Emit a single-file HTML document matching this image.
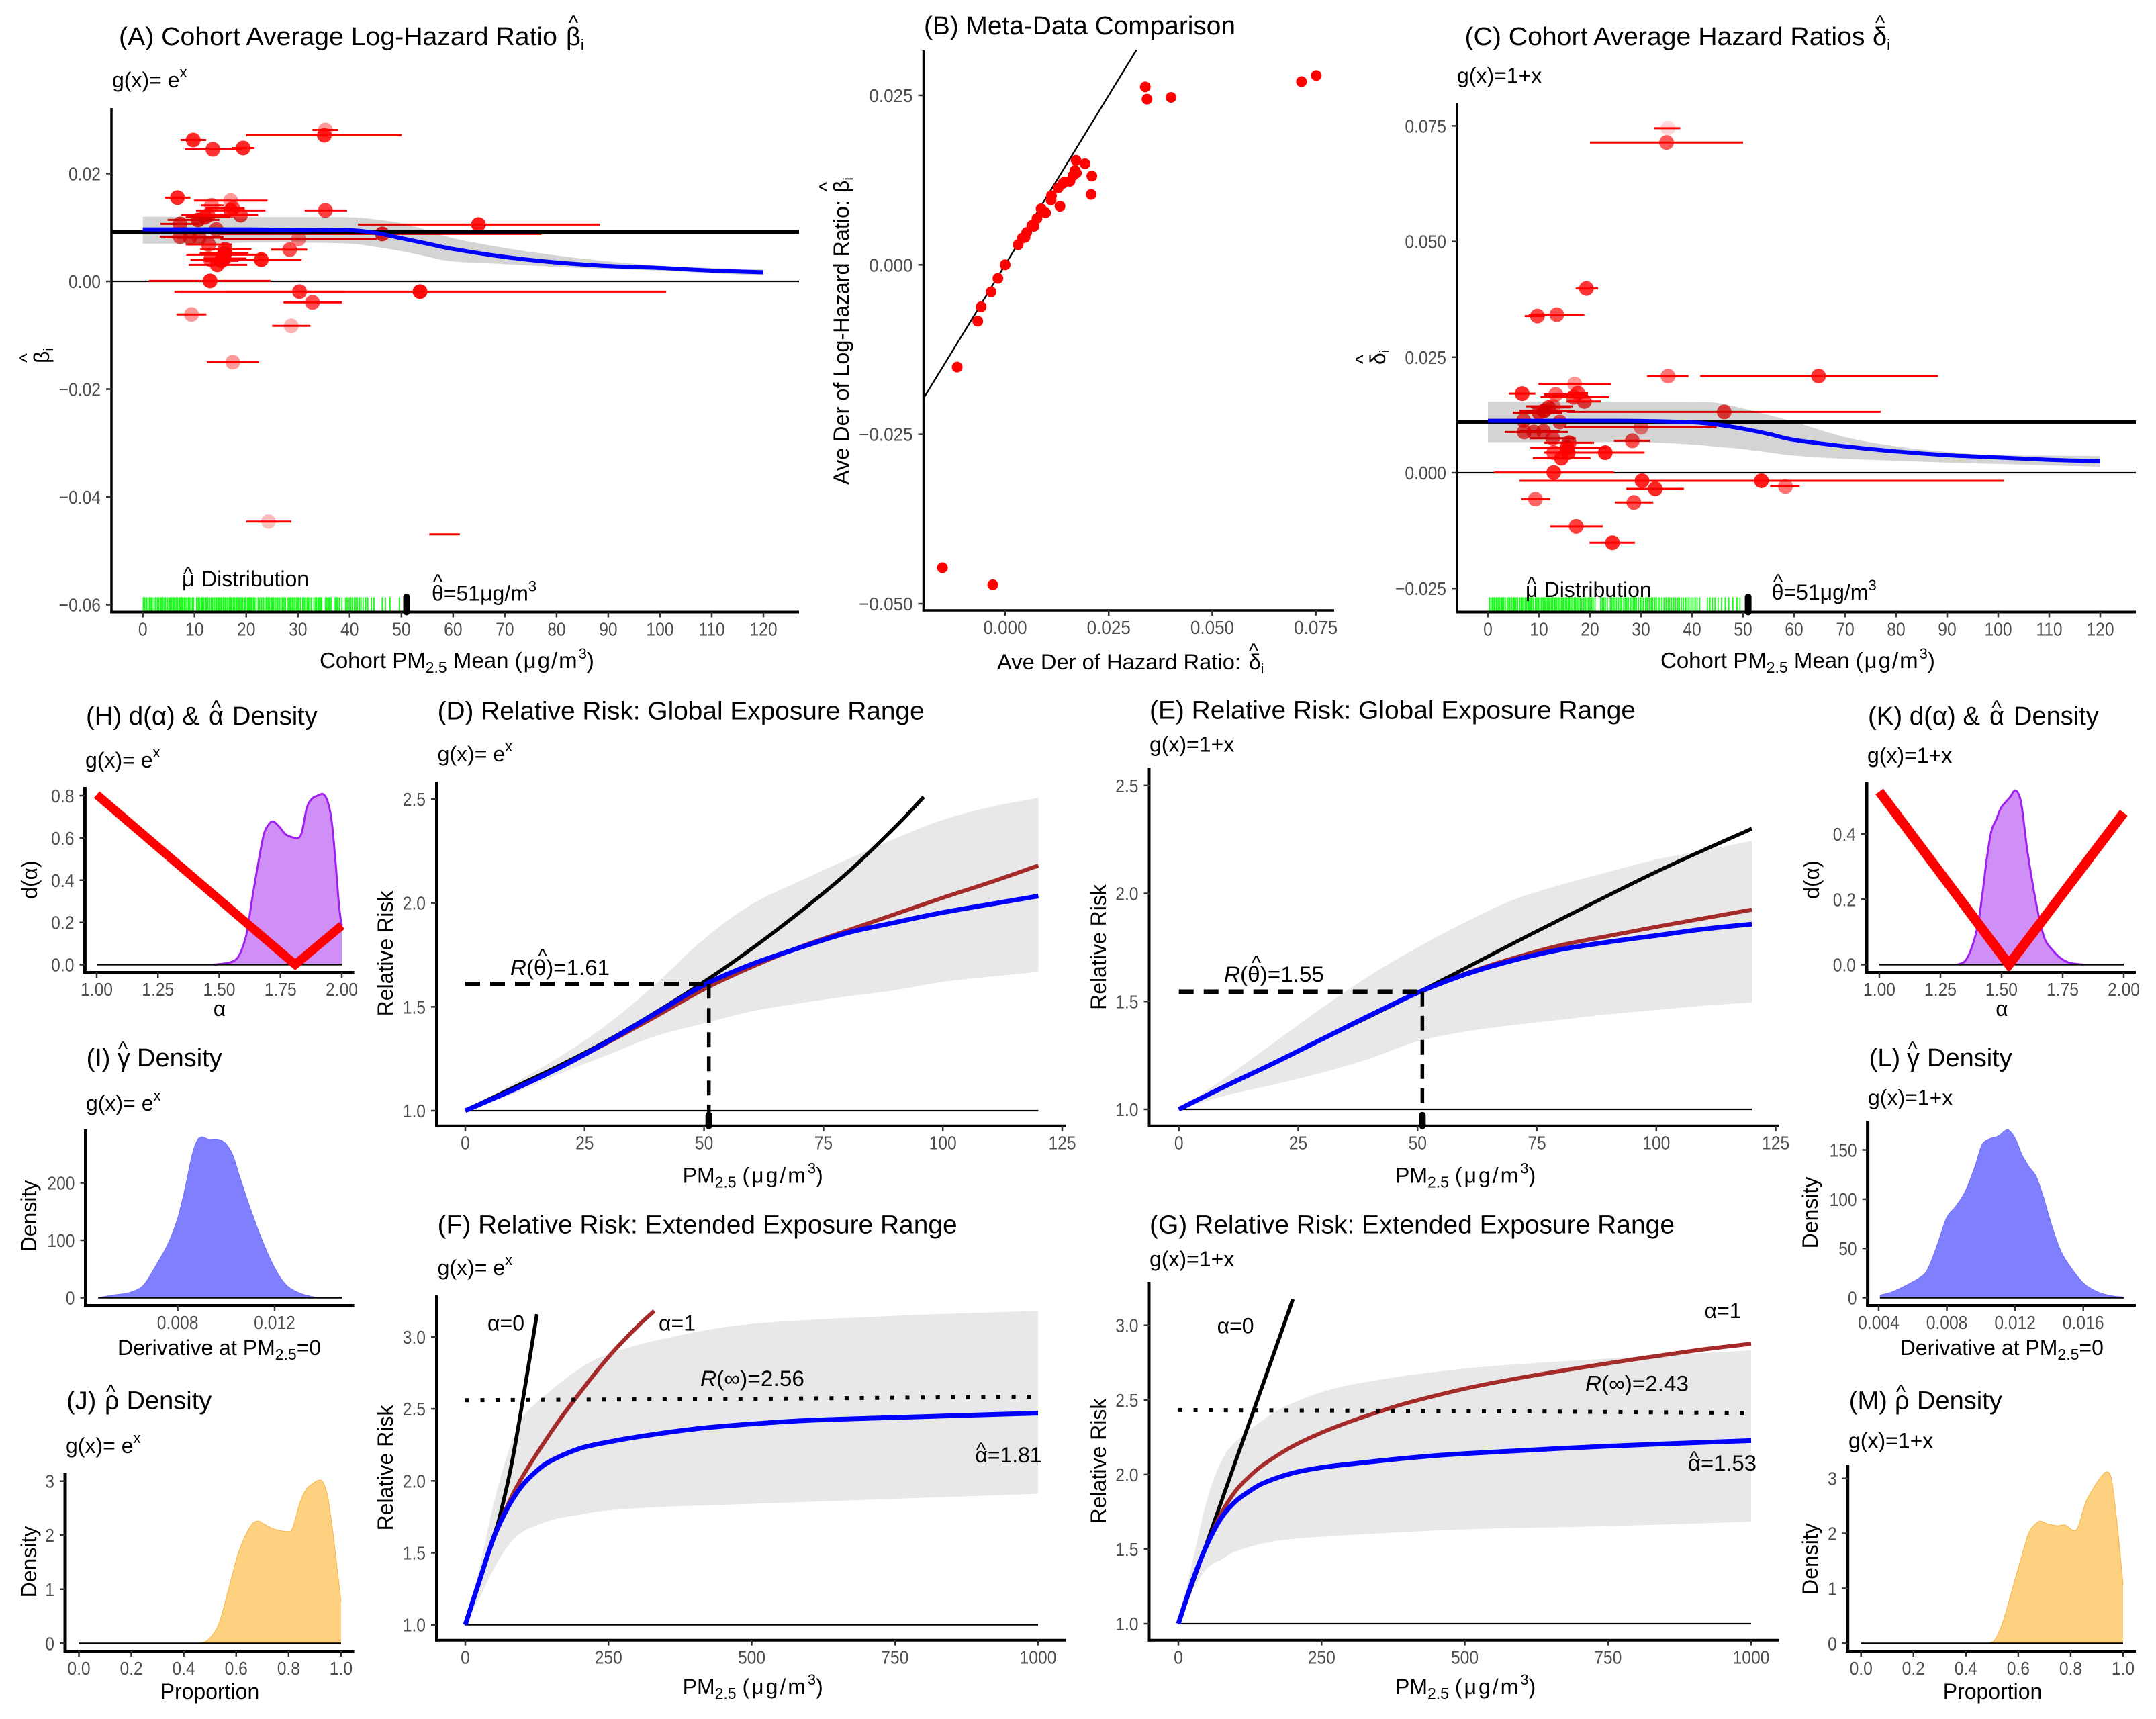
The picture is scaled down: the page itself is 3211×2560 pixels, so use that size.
<!DOCTYPE html>
<html lang="en">
<head>
<meta charset="utf-8">
<title>Cohort hazard ratios and relative risk panels</title>
<style>
html,body{margin:0;padding:0;background:#fff;width:3211px;height:2560px;overflow:hidden}
svg{display:block}
text{font-family:"Liberation Sans","DejaVu Sans",sans-serif;fill:#000}
.title{font-size:38px}
.sub{font-size:32px}
.lab{font-size:32px}
.hat{font-size:30px;text-anchor:middle}
</style>
</head>
<body>
<svg id="chart" width="3211" height="2560" viewBox="0 0 3211 2560" xmlns="http://www.w3.org/2000/svg">
<rect width="3211" height="2560" fill="#fff"/>
<g id="marks"></g>

<g>
<text class="title" x="177" y="67" textLength="653" lengthAdjust="spacingAndGlyphs">(A) Cohort Average Log-Hazard Ratio</text>
<text class="title" x="843" y="67">β<tspan font-size="22" dy="7">i</tspan></text>
<text class="hat" x="854" y="44">^</text>
<text class="sub" x="167" y="130">g(x)= e<tspan font-size="22" dy="-15">x</tspan></text>
<text class="lab" x="476" y="995" style="font-size:33px">Cohort PM<tspan font-size="23" dy="7">2.5</tspan><tspan dy="-7"> Mean </tspan><tspan letter-spacing="2">(μg/m</tspan><tspan font-size="22" dy="-14">3</tspan><tspan dy="14">)</tspan></text>
<text class="lab" transform="translate(73,541) rotate(-90)">β<tspan font-size="20" dy="6">i</tspan></text>
<text class="hat" transform="translate(50,533) rotate(-90)">^</text>
<text class="lab" x="271" y="873">μ</text>
<text class="hat" x="280" y="865">^</text>
<text class="lab" x="300" y="873">Distribution</text>
<text class="lab" x="643" y="894.6">θ=51μg/m<tspan font-size="22" dy="-14">3</tspan></text>
<text class="hat" x="652" y="876">^</text>
</g>

<g>
<text class="title" x="1376" y="51" textLength="464" lengthAdjust="spacingAndGlyphs">(B) Meta-Data Comparison</text>
<text class="lab" x="1485" y="997" textLength="363" lengthAdjust="spacingAndGlyphs">Ave Der of Hazard Ratio:</text>
<text class="lab" x="1860" y="997">δ<tspan font-size="20" dy="6">i</tspan></text>
<text class="hat" x="1867" y="979">^</text>
<text class="lab" transform="translate(1264,722) rotate(-90)" textLength="424" lengthAdjust="spacingAndGlyphs">Ave Der of Log-Hazard Ratio:</text>
<text class="lab" transform="translate(1264,287) rotate(-90)">β<tspan font-size="20" dy="6">i</tspan></text>
<text class="hat" transform="translate(1241,278) rotate(-90)">^</text>
</g>

<g>
<text class="title" x="2181.5" y="67" textLength="596" lengthAdjust="spacingAndGlyphs">(C) Cohort Average Hazard Ratios</text>
<text class="title" x="2789" y="67">δ<tspan font-size="22" dy="7">i</tspan></text>
<text class="hat" x="2800" y="44">^</text>
<text class="sub" x="2170" y="123.6">g(x)=1+x</text>
<text class="lab" x="2473" y="995" style="font-size:33px">Cohort PM<tspan font-size="23" dy="7">2.5</tspan><tspan dy="-7"> Mean </tspan><tspan letter-spacing="2">(μg/m</tspan><tspan font-size="22" dy="-14">3</tspan><tspan dy="14">)</tspan></text>
<text class="lab" transform="translate(2063,543) rotate(-90)">δ<tspan font-size="20" dy="6">i</tspan></text>
<text class="hat" transform="translate(2040,535) rotate(-90)">^</text>
<text class="lab" x="2272" y="889">μ</text>
<text class="hat" x="2281" y="880">^</text>
<text class="lab" x="2299.6" y="889">Distribution</text>
<text class="lab" x="2638.6" y="893">θ=51μg/m<tspan font-size="22" dy="-14">3</tspan></text>
<text class="hat" x="2648" y="876">^</text>
</g>

<g>
<text class="title" x="651.6" y="1071.6" textLength="725" lengthAdjust="spacingAndGlyphs">(D) Relative Risk: Global Exposure Range</text>
<text class="sub" x="651.6" y="1134">g(x)= e<tspan font-size="22" dy="-15">x</tspan></text>
<text class="lab" x="1016.6" y="1761.6">PM<tspan font-size="23" dy="7">2.5</tspan><tspan dy="-7"> </tspan><tspan letter-spacing="3">(μg/m</tspan><tspan font-size="22" dy="-14">3</tspan><tspan dy="14">)</tspan></text>
<text class="lab" text-anchor="middle" transform="translate(585,1420) rotate(-90)">Relative Risk</text>
<text class="lab" x="760" y="1452" textLength="148" lengthAdjust="spacingAndGlyphs"><tspan font-style="italic">R</tspan>(θ)=1.61</text>
<text class="hat" x="808" y="1434">^</text>
</g>

<g>
<text class="title" x="1712" y="1070.6" textLength="724" lengthAdjust="spacingAndGlyphs">(E) Relative Risk: Global Exposure Range</text>
<text class="sub" x="1712" y="1119.7">g(x)=1+x</text>
<text class="lab" x="2078" y="1761.6">PM<tspan font-size="23" dy="7">2.5</tspan><tspan dy="-7"> </tspan><tspan letter-spacing="3">(μg/m</tspan><tspan font-size="22" dy="-14">3</tspan><tspan dy="14">)</tspan></text>
<text class="lab" text-anchor="middle" transform="translate(1647,1410.5) rotate(-90)">Relative Risk</text>
<text class="lab" x="1823" y="1462" textLength="149" lengthAdjust="spacingAndGlyphs"><tspan font-style="italic">R</tspan>(θ)=1.55</text>
<text class="hat" x="1871" y="1444">^</text>
</g>

<g>
<text class="title" x="651.6" y="1836.7" textLength="774" lengthAdjust="spacingAndGlyphs">(F) Relative Risk: Extended Exposure Range</text>
<text class="sub" x="651.6" y="1899">g(x)= e<tspan font-size="22" dy="-15">x</tspan></text>
<text class="lab" x="1016.6" y="2523">PM<tspan font-size="23" dy="7">2.5</tspan><tspan dy="-7"> </tspan><tspan letter-spacing="3">(μg/m</tspan><tspan font-size="22" dy="-14">3</tspan><tspan dy="14">)</tspan></text>
<text class="lab" text-anchor="middle" transform="translate(585,2186) rotate(-90)">Relative Risk</text>
<text class="lab" x="726" y="1981.5">α=0</text>
<text class="lab" x="981" y="1981.5">α=1</text>
<text class="lab" x="1043" y="2064" textLength="155" lengthAdjust="spacingAndGlyphs"><tspan font-style="italic">R</tspan>(∞)=2.56</text>
<text class="lab" x="1452.5" y="2178" textLength="99" lengthAdjust="spacingAndGlyphs">α=1.81</text>
<text class="hat" x="1461" y="2169">^</text>
</g>

<g>
<text class="title" x="1712" y="1836.7" textLength="782" lengthAdjust="spacingAndGlyphs">(G) Relative Risk: Extended Exposure Range</text>
<text class="sub" x="1712" y="1885.8">g(x)=1+x</text>
<text class="lab" x="2078" y="2523">PM<tspan font-size="23" dy="7">2.5</tspan><tspan dy="-7"> </tspan><tspan letter-spacing="3">(μg/m</tspan><tspan font-size="22" dy="-14">3</tspan><tspan dy="14">)</tspan></text>
<text class="lab" text-anchor="middle" transform="translate(1647,2176) rotate(-90)">Relative Risk</text>
<text class="lab" x="1812.6" y="1985.5">α=0</text>
<text class="lab" x="2538.6" y="1963">α=1</text>
<text class="lab" x="2361" y="2071.4" textLength="154" lengthAdjust="spacingAndGlyphs"><tspan font-style="italic">R</tspan>(∞)=2.43</text>
<text class="lab" x="2514" y="2190" textLength="102" lengthAdjust="spacingAndGlyphs">α=1.53</text>
<text class="hat" x="2523" y="2182">^</text>
</g>

<g>
<text class="title" x="128" y="1079" textLength="169" lengthAdjust="spacingAndGlyphs">(H) d(α) &amp;</text>
<text class="title" x="311" y="1079">α</text>
<text class="hat" x="322" y="1064">^</text>
<text class="title" x="346" y="1079">Density</text>
<text class="sub" x="127" y="1142.8">g(x)= e<tspan font-size="22" dy="-15">x</tspan></text>
<text class="lab" text-anchor="middle" x="327" y="1513">α</text>
<text class="lab" text-anchor="middle" transform="translate(55,1310) rotate(-90)">d(α)</text>
</g>

<g>
<text class="title" x="128.6" y="1588">(I)</text>
<text class="title" x="175" y="1588">γ</text>
<text class="hat" x="183" y="1572">^</text>
<text class="title" x="204" y="1588">Density</text>
<text class="sub" x="128" y="1654">g(x)= e<tspan font-size="22" dy="-15">x</tspan></text>
<text class="lab" x="175" y="2018">Derivative at PM<tspan font-size="23" dy="7">2.5</tspan><tspan dy="-7">=0</tspan></text>
<text class="lab" text-anchor="middle" transform="translate(54,1811) rotate(-90)">Density</text>
</g>

<g>
<text class="title" x="99" y="2098.5">(J)</text>
<text class="title" x="156" y="2098.5">ρ</text>
<text class="hat" x="165" y="2083">^</text>
<text class="title" x="188.6" y="2098.5">Density</text>
<text class="sub" x="98" y="2164">g(x)= e<tspan font-size="22" dy="-15">x</tspan></text>
<text class="lab" x="238.6" y="2530">Proportion</text>
<text class="lab" text-anchor="middle" transform="translate(54,2326) rotate(-90)">Density</text>
</g>

<g>
<text class="title" x="2782" y="1079" textLength="167" lengthAdjust="spacingAndGlyphs">(K) d(α) &amp;</text>
<text class="title" x="2963" y="1079">α</text>
<text class="hat" x="2973.5" y="1064">^</text>
<text class="title" x="2999" y="1079">Density</text>
<text class="sub" x="2781" y="1136">g(x)=1+x</text>
<text class="lab" text-anchor="middle" x="2981.5" y="1513">α</text>
<text class="lab" text-anchor="middle" transform="translate(2709,1310) rotate(-90)">d(α)</text>
</g>

<g>
<text class="title" x="2783.7" y="1588">(L)</text>
<text class="title" x="2840" y="1588">γ</text>
<text class="hat" x="2848.5" y="1572">^</text>
<text class="title" x="2870" y="1588">Density</text>
<text class="sub" x="2782" y="1645.7">g(x)=1+x</text>
<text class="lab" x="2829.7" y="2018">Derivative at PM<tspan font-size="23" dy="7">2.5</tspan><tspan dy="-7">=0</tspan></text>
<text class="lab" text-anchor="middle" transform="translate(2707,1806) rotate(-90)">Density</text>
</g>

<g>
<text class="title" x="2753.8" y="2098.5">(M)</text>
<text class="title" x="2822" y="2098.5">ρ</text>
<text class="hat" x="2831" y="2083">^</text>
<text class="title" x="2855" y="2098.5">Density</text>
<text class="sub" x="2753" y="2156.6">g(x)=1+x</text>
<text class="lab" x="2893.7" y="2530">Proportion</text>
<text class="lab" text-anchor="middle" transform="translate(2707,2321.6) rotate(-90)">Density</text>
</g>
</svg>

<script>
/* ---------- Panel A data ---------- */
const aX=[9.74,13.55,19.4,35.3,35.1,6.7,17,13.3,17.4,17,35.3,18.9,12.6,12,10.7,7.2,46.3,64.9,14.2,7.2,9.1,10.9,30.1,12.7,15.9,28.4,15.9,22.9,15.7,13.1,15.7,15.2,14.4,13,30.3,53.6,32.8,9.4,28.7,17.4,24.3,58.4];
const aY=[.02623,.02449,.02474,.0281,.0271,.01553,.01499,.01411,.01357,.01316,.01316,.01229,.01225,.01191,.01142,.01067,.0088,.01054,.00963,.0083,.00818,.0081,.00785,.00685,.00594,.00589,.00527,.00403,.00494,.00403,.00423,.00382,.00307,.00008,-.00191,-.00191,-.0039,-.00614,-.00826,-.01499,-.04458,-.04695];
const aLo=[7.3,8.1,17.2,32.8,20,4.2,9.9,11.2,12.2,10.3,31.3,7.4,8.7,8.3,4.8,3.4,15.1,41.6,10.5,3.3,4,6.6,15,8.3,11.1,24.8,11,11.1,8.4,9.2,11.8,12,8.9,1.2,15.9,6.1,27.2,6.5,25,12.4,20,55.4];
const aHi=[12.25,19.1,21.6,37.8,50,9.2,24.1,15.6,19.7,23.7,39.5,22.3,17,16.9,14.8,10.9,77.1,88.4,18.3,11.1,15.6,15.2,45.2,17.2,21,31.8,20.4,30.7,23.5,16.5,20,18.5,20.2,24.7,39,101.2,38.5,12.3,32.4,22.5,28.7,61.3];
const aWeight=[.85,.8,.85,.4,.85,.85,.4,.5,.7,.8,.75,.75,.7,.8,.85,.75,.85,.9,.7,.7,.75,.7,.5,.7,.85,.7,.85,.9,.9,.7,.9,.9,.85,.9,.8,.95,.7,.4,.3,.4,.25,0];
const aSmoothX=[0,10,20,30,35,40,45,50,55,60,70,80,90,100,110,120];
const aSmooth=[.00964,.00964,.00964,.00955,.0095,.0095,.009,.008,.007,.006,.00453,.0035,.00285,.0025,.002,.0017];
const aBandX=[0,10,20,30,40,45,50,55,60,70,80,90,100,110,120];
const aBandUp=[.0120,.0120,.01195,.01195,.0119,.0115,.0108,.0095,.008,.0062,.0048,.0037,.0029,.0025,.00225];
const aBandLow=[.0070,.0070,.0072,.0072,.0070,.0064,.0056,.0046,.0037,.0032,.0027,.0023,.002,.0015,.0011];
const aMean=.0092;
const aRug=[0.1,0.4,0.7,1.0,1.3,1.6,1.8,2.2,2.5,2.8,3.1,3.4,3.6,3.9,4.2,4.4,4.8,5.1,5.3,5.6,5.9,6.1,6.4,6.7,7.0,7.2,7.5,7.7,8.0,8.2,8.5,8.8,9.0,9.3,9.6,9.8,10.4,10.7,11.0,11.3,11.5,11.8,12.1,12.3,12.6,12.9,13.2,13.5,13.8,14.1,14.3,14.6,14.8,15.1,15.3,15.6,15.9,16.1,16.4,16.7,17.0,17.2,17.5,17.7,18.0,18.2,18.5,18.7,19.0,19.3,19.6,19.8,20.2,20.4,20.6,20.9,21.1,21.4,21.6,21.9,22.3,22.6,23.0,23.3,23.6,23.9,24.2,24.5,24.8,25.0,25.3,25.6,25.9,26.1,26.4,26.7,27.0,27.3,27.6,28.1,28.4,28.6,28.9,29.1,29.4,29.7,30.0,30.2,30.5,30.9,31.2,31.5,31.8,32.0,32.3,32.6,33.1,33.4,33.6,33.9,34.1,34.4,34.6,35.3,35.6,35.9,36.1,36.4,37.2,37.5,37.7,38.0,38.5,39.2,39.5,39.9,40.2,40.5,40.9,41.2,41.5,41.9,42.2,42.6,43.1,43.5,44.2,44.7,46.3,46.9,47.8,49.6];
const aTheta=51;
const aXTicks=[0,10,20,30,40,50,60,70,80,90,100,110,120];
const aYTicks=[.02,0,-.02,-.04,-.06];
const aYLabels=['0.02','0.00','−0.02','−0.04','−0.06'];

/* ---------- Panel B data ---------- */
const bX=[-.01514,-.00298,-.01158,-.00662,-.00579,-.00339,-.00174,0,.00314,.00414,.0048,.00521,.00645,.00695,.00769,.00869,.00976,.01117,.01108,.01282,.0139,.01324,.01431,.01563,.01638,.0172,.01687,.01712,.01927,.02093,.02076,.03383,.03425,.04004,.07155,.07511];
const bY=[-.0447,-.04721,-.01509,-.00832,-.00619,-.004,-.002,0,.00297,.00393,.00406,.00477,.0058,.00568,.00684,.00826,.00767,.01019,.00955,.01135,.012,.00864,.01219,.01232,.01316,.01354,.01393,.01541,.0149,.01309,.01038,.02625,.02444,.0247,.02702,.02793];
const bLineX=[-.0197,.0317];
const bLineY=[-.0197,.0317];
const bXTicks=[0,.025,.05,.075];
const bXLabels=['0.000','0.025','0.050','0.075'];
const bYTicks=[.025,0,-.025,-.05];
const bYLabels=['0.025','0.000','−0.025','−0.050'];

/* ---------- Panel C data ---------- */
const cX=[35.3,35,19.3,9.7,13.5,35.3,64.8,17,6.7,13.3,17.6,16.8,18.9,12.8,11.9,11,10,46.3,7,14.1,30,7.1,9,10.9,12.7,15.9,28.3,15.5,12.9,23,15.7,14.4,12.9,30.2,53.6,32.8,58.3,9.3,28.6,17.3,24.4];
const cY=[.0745,.0714,.03983,.03388,.03417,.02088,.0209,.01919,.01711,.01692,.01721,.01634,.01542,.01436,.01411,.01339,.013,.01315,.01131,.01097,.00981,.0088,.0088,.00894,.00744,.00648,.00691,.00541,.00435,.00435,.00435,.00314,.00005,-.00174,-.00174,-.00348,-.00295,-.0057,-.00643,-.0116,-.01513];
const cLo=[32.6,20,17.2,7.2,8,31.2,41.6,9.9,4.1,11,15.7,10.3,15.4,7.4,8.4,6.2,4.9,15.5,3.2,10.4,15,3.3,5.8,6.2,8.2,11,24.7,8.3,11,11,11.5,8.8,1.2,19,6.2,27.1,55.3,6.6,24.9,12.2,19.9];
const cHi=[37.7,50,21.6,11.1,18.9,39.3,88.2,24.1,9.3,19.6,19.6,23.7,22.1,16.6,16.3,17,14.6,77,11,17.6,44.8,10.8,15.7,14.1,17.2,20.8,31.8,23.3,17,30.7,19,20.1,24.7,41.5,101.1,38.4,61.1,12.2,32.4,22.5,28.8];
const cWeight=[.15,.65,.8,.75,.7,.55,.8,.4,.85,.6,.75,.7,.75,.5,.8,.85,.8,.75,.7,.7,.5,.7,.7,.7,.7,.8,.7,.9,.7,.9,.9,.85,.85,.85,.9,.85,.55,.6,.7,.75,.85];
const cSmoothX=[0,10,20,30,40,45,50,55,60,70,80,90,100,110,120];
const cSmooth=[.01124,.01124,.01124,.0112,.0109,.0104,.0095,.0084,.0071,.0057,.0046,.0038,.0033,.0028,.0025];
const cBandX=[0,10,20,30,40,45,50,55,60,70,80,90,100,110,120];
const cBandUp=[.01537,.01537,.0153,.0153,.0153,.0151,.0139,.0125,.011,.0077,.0057,.0045,.0038,.0037,.0036];
const cBandLow=[.0066,.0066,.0066,.0066,.0061,.0056,.0051,.0044,.0037,.003,.0026,.0022,.0019,.0016,.0013];
const cMean=.0109;
const cRug=[0.3,0.6,0.9,1.2,1.4,1.7,2.0,2.3,2.6,2.8,3.1,3.4,3.8,4.1,4.3,4.7,5.0,5.2,5.5,5.8,6.2,6.5,6.7,7.0,7.3,7.6,7.9,8.1,8.4,8.6,8.9,9.3,9.6,9.9,10.2,10.5,10.8,11.1,11.3,11.6,11.9,12.1,12.4,12.7,13.0,13.2,13.5,13.8,14.1,14.4,14.7,14.9,15.2,15.5,15.8,16.0,16.3,16.6,16.9,17.2,17.5,17.8,18.1,18.4,18.8,19.1,19.4,19.7,20.0,20.3,20.6,21.0,22.1,22.4,22.7,23.0,23.4,24.0,24.3,24.6,24.9,25.2,25.6,25.9,26.2,26.6,26.9,27.2,27.5,27.9,28.2,28.5,28.8,29.1,29.5,29.9,30.2,30.5,30.9,31.2,31.6,32.0,32.3,32.7,33.0,33.4,33.7,34.1,34.5,34.9,35.3,35.6,36.0,36.4,36.8,37.2,37.5,37.9,38.3,38.7,39.0,39.4,39.8,40.2,40.6,41.0,41.5,43.0,43.5,44.0,44.5,45.1,45.8,46.5,47.2,48.0,48.8,49.4];
const cTheta=51;
const cXTicks=[0,10,20,30,40,50,60,70,80,90,100,110,120];
const cYTicks=[.075,.05,.025,0,-.025];
const cYLabels=['0.075','0.050','0.025','0.000','−0.025'];

/* ---------- Panel D data ---------- */
const dX=[0,10,20,30,40,50,60,70,80,90,100,110,120];
const dBrown=[1,1.1,1.21,1.33,1.455,1.585,1.692,1.787,1.867,1.946,2.025,2.1,2.18];
const dBlue=[1,1.1,1.21,1.335,1.47,1.605,1.705,1.784,1.856,1.906,1.954,1.994,2.033];
const dBandUp=[1,1.13,1.263,1.42,1.613,1.827,1.994,2.105,2.21,2.31,2.4,2.462,2.506];
const dBandLow=[1,1.08,1.18,1.27,1.36,1.42,1.478,1.517,1.55,1.58,1.62,1.645,1.668];
const dBlackX=[0,10,20,30,40,50,60,70,80,90,96];
const dBlack=[1,1.11,1.22,1.34,1.475,1.62,1.78,1.955,2.145,2.365,2.51];
const dTheta=51, dAtTheta=1.61;
const rrXTicks=[0,25,50,75,100,125];
const dYTicks=[1,1.5,2,2.5];
const dYLabels=['1.0','1.5','2.0','2.5'];

/* ---------- Panel E data ---------- */
const eX=[0,10,20,30,40,50,60,70,80,90,100,110,120];
const eBrown=[1,1.11,1.215,1.325,1.435,1.54,1.628,1.7,1.76,1.803,1.845,1.885,1.925];
const eBlue=[1,1.11,1.215,1.325,1.435,1.54,1.625,1.69,1.74,1.775,1.805,1.835,1.858];
const eBandUp=[1,1.15,1.31,1.47,1.62,1.75,1.867,1.97,2.04,2.1,2.157,2.2,2.243];
const eBandLow=[1,1.065,1.115,1.17,1.235,1.315,1.36,1.39,1.415,1.44,1.46,1.48,1.495];
const eBlackX=[0,25,50,75,100,120];
const eBlack=[1,1.27,1.54,1.825,2.1,2.3];
const eTheta=51, eAtTheta=1.545;
const eYTicks=[1,1.5,2,2.5];
const eYLabels=['1.0','1.5','2.0','2.5'];

/* ---------- Panel F data ---------- */
const fBlackX=[0,25,50,60,80,100,125];
const fBlack=[1,1.31,1.62,1.75,2.1,2.55,3.157];
const fBrownX=[0,25,50,75,100,150,190,250,300,330];
const fBrown=[1,1.31,1.61,1.84,2.03,2.34,2.56,2.86,3.07,3.18];
const fBlueX=[0,25,50,75,100,125,150,200,250,300,400,500,600,750,1000];
const fBlue=[1,1.31,1.61,1.82,1.97,2.07,2.14,2.225,2.27,2.305,2.36,2.395,2.42,2.44,2.47];
const fBandX=[0,25,50,75,100,150,200,250,350,500,750,1000];
const fBandUp=[1,1.4,1.85,2.2,2.44,2.63,2.78,2.88,2.99,3.09,3.146,3.18];
const fBandLow=[1,1.19,1.39,1.55,1.645,1.726,1.765,1.795,1.82,1.84,1.875,1.91];
const fDotX=[0,500,1000];
const fDot=[2.56,2.57,2.585];
const extXTicks=[0,250,500,750,1000];
const fYTicks=[1,1.5,2,2.5,3];
const fYLabels=['1.0','1.5','2.0','2.5','3.0'];

/* ---------- Panel G data ---------- */
const gBlackX=[0,50,100,150,200];
const gBlack=[1,1.545,2.09,2.63,3.175];
const gBrownX=[0,25,50,75,100,125,150,200,250,300,350,400,500,600,750,900,1000];
const gBrown=[1,1.29,1.53,1.74,1.89,1.99,2.07,2.19,2.28,2.355,2.42,2.48,2.575,2.65,2.745,2.83,2.876];
const gBlueX=[0,25,50,75,100,125,150,200,250,300,400,500,750,1000];
const gBlue=[1,1.29,1.53,1.71,1.82,1.89,1.945,2.01,2.047,2.07,2.11,2.14,2.19,2.227];
const gBandX=[0,25,50,75,100,150,200,300,500,750,1000];
const gBandUp=[1,1.42,1.83,2.09,2.22,2.37,2.48,2.6,2.71,2.777,2.832];
const gBandLow=[1,1.22,1.37,1.43,1.484,1.54,1.568,1.594,1.632,1.654,1.683];
const gDotX=[0,500,1000];
const gDot=[2.432,2.425,2.412];
const gYTicks=[1,1.5,2,2.5,3];
const gYLabels=['1.0','1.5','2.0','2.5','3.0'];

/* ---------- Density panels ---------- */
const hX=[1.476,1.525,1.564,1.588,1.613,1.632,1.657,1.681,1.701,1.72,1.745,1.769,1.799,1.823,1.838,1.857,1.877,1.901,1.926,1.945,1.96,1.975,1.989,2];
const hDensity=[0,.006,.02,.06,.153,.294,.466,.612,.662,.678,.653,.619,.603,.6,.631,.741,.784,.8,.806,.763,.669,.481,.278,.184];
const hDistX=[1,1.81,2];
const hDist=[.805,0,.185];
const alphaTicks=[1,1.25,1.5,1.75,2];
const alphaLabels=['1.00','1.25','1.50','1.75','2.00'];
const hYTicks=[0,.2,.4,.6,.8];
const hYLabels=['0.0','0.2','0.4','0.6','0.8'];

const iX=[.00472,.00532,.00591,.00641,.0067,.0071,.00759,.00799,.00829,.00858,.00878,.00898,.00928,.00967,.00997,.01027,.01056,.01096,.01136,.01175,.01215,.01254,.01304,.01353,.01393,.01478];
const iDensity=[0,4.6,8,16,28,56,93,137,188,246,272,280,276,276,269,249,211,160,114,74,41,20,8,2.3,0,0];
const iXTicks=[.008,.012];
const iXLabels=['0.008','0.012'];
const iYTicks=[0,100,200];
const iYLabels=['0','100','200'];

const jX=[.431,.486,.532,.568,.605,.632,.66,.683,.705,.742,.792,.815,.843,.866,.888,.911,.93,.948,.966,.984,1];
const jDensity=[0,.04,.34,.95,1.62,1.96,2.2,2.26,2.21,2.12,2.07,2.13,2.6,2.84,2.94,3.01,2.99,2.74,2.17,1.44,.77];
const propTicks=[0,.2,.4,.6,.8,1];
const propLabels=['0.0','0.2','0.4','0.6','0.8','1.0'];
const densityTicks3=[0,1,2,3];
const densityLabels3=['0','1','2','3'];

const kX=[1.318,1.352,1.381,1.405,1.424,1.439,1.458,1.477,1.497,1.516,1.535,1.554,1.569,1.583,1.603,1.622,1.641,1.661,1.68,1.709,1.738,1.776,1.834];
const kDensity=[0,.012,.059,.129,.23,.321,.408,.442,.479,.497,.513,.533,.523,.483,.362,.271,.19,.119,.073,.044,.022,.006,0];
const kDistX=[1,1.53,2];
const kDist=[.53,0,.465];
const kYTicks=[0,.2,.4];
const kYLabels=['0.0','0.2','0.4'];

const lX=[.00407,.00479,.00576,.00645,.00687,.00742,.00798,.00853,.00908,.00964,.01005,.01047,.01102,.01144,.01171,.01206,.01241,.01282,.01324,.01365,.01407,.01462,.01518,.01601,.01684,.01767,.01839];
const lDensity=[2.7,6,14,21,29,53,81,93,108,133,155,161,164,170,169,160,145,133,123,103,78,50,33,15,6,2,.7];
const lXTicks=[.004,.008,.012,.016];
const lXLabels=['0.004','0.008','0.012','0.016'];
const lYTicks=[0,50,100,150];
const lYLabels=['0','50','100','150'];

const mX=[.479,.51,.542,.578,.614,.641,.668,.686,.713,.749,.78,.812,.83,.857,.884,.911,.938,.956,.974,.987,1];
const mDensity=[0,.06,.4,1,1.6,2.02,2.18,2.22,2.17,2.14,2.15,2.05,2.14,2.56,2.8,3,3.12,2.98,2.32,1.72,1.06];

/* ---------- Drawing helpers ---------- */
const NS='http://www.w3.org/2000/svg';
const root=document.getElementById('marks');

function mk(parent,tag,attrs,name){
  const el=document.createElementNS(NS,tag);
  for(const k in attrs){el.setAttribute(k,attrs[k]);}
  
  
  parent.appendChild(el);
  return el;
}
function scale(d0,p0,d1,p1){const k=(p1-p0)/(d1-d0);return v=>p0+(v-d0)*k;}
function pts(xs,ys,sx,sy){return xs.map((x,i)=>[sx(x),sy(ys[i])]);}
function curve(p){
  let d='M'+p[0][0].toFixed(2)+' '+p[0][1].toFixed(2);
  for(let i=0;i<p.length-1;i++){
    const a=p[Math.max(i-1,0)],b=p[i],c=p[i+1],e=p[Math.min(i+2,p.length-1)];
    const c1x=b[0]+(c[0]-a[0])/6,c1y=b[1]+(c[1]-a[1])/6,c2x=c[0]-(e[0]-b[0])/6,c2y=c[1]-(e[1]-b[1])/6;
    d+='C'+c1x.toFixed(2)+' '+c1y.toFixed(2)+' '+c2x.toFixed(2)+' '+c2y.toFixed(2)+' '+c[0].toFixed(2)+' '+c[1].toFixed(2);
  }
  return d;
}
function axes(g,pre,f,sx,sy,xt,xl,yt,yl,o){
  o=o||{};
  const lw=o.lw||4,bw=o.bw||4,tsx=o.tsx||.88;
  mk(g,'line',{x1:f.l,x2:f.l,y1:f.t,y2:f.b+bw/2,stroke:'#000','stroke-width':lw},pre+'-y-axis-line');
  mk(g,'line',{x1:f.l-lw/2,x2:f.r,y1:f.b,y2:f.b,stroke:'#000','stroke-width':bw},pre+'-x-axis-line');
  xt.forEach((v,i)=>{
    const x=sx(v);
    mk(g,'line',{x1:x,x2:x,y1:f.b,y2:f.b+8,stroke:'#333','stroke-width':2.5},pre+'-x-tick');
    const t=mk(g,'text',{transform:'translate('+x+','+(f.b+35)+') scale('+tsx+',1)','text-anchor':'middle','font-size':28,style:'fill:#4d4d4d'},pre+'-x-tick-label');
    t.textContent=xl[i];
  });
  yt.forEach((v,i)=>{
    const y=sy(v);
    mk(g,'line',{x1:f.l-8,x2:f.l,y1:y,y2:y,stroke:'#333','stroke-width':2.5},pre+'-y-tick');
    const t=mk(g,'text',{transform:'translate('+(f.l-16)+','+(y+10)+') scale('+tsx+',1)','text-anchor':'end','font-size':28,style:'fill:#4d4d4d'},pre+'-y-tick-label');
    t.textContent=yl[i];
  });
}
function line(g,xs,ys,sx,sy,stroke,w,name,extra){
  const a={d:curve(pts(xs,ys,sx,sy)),fill:'none',stroke:stroke,'stroke-width':w,'stroke-linejoin':'round'};
  if(extra){for(const k in extra){a[k]=extra[k];}}
  return mk(g,'path',a,name);
}
function band(g,xs,up,low,sx,sy,opacity,name){
  const u=pts(xs,up,sx,sy),l=pts(xs,low,sx,sy).reverse();
  mk(g,'path',{d:curve(u)+curve(l).replace('M','L')+'Z',fill:'#000','fill-opacity':opacity,stroke:'none'},name);
}
function rug(g,pre,values,theta,sx,f,top){
  values.forEach(v=>{
    const x=sx(v);
    mk(g,'line',{x1:x,x2:x,y1:top,y2:f.b,stroke:'#00ff00','stroke-width':1.8,'stroke-opacity':.9},pre+'-rug-tick');
  });
  const tx=sx(theta);
  mk(g,'line',{x1:tx,x2:tx,y1:top-.5,y2:f.b,stroke:'#000','stroke-width':10,'stroke-linecap':'round'},pre+'-theta-rug');
}
function scatter(pre,f,sx,sy,X,Y,Lo,Hi,W,bandX,bandUp,bandLow,smX,sm,mean,rugV,theta,rugTop,yt,yl,xt,opts){
  const g=mk(root,'g',{},'panel-'+pre+'-marks');
  mk(g,'line',{x1:f.l,x2:f.r,y1:sy(0),y2:sy(0),stroke:'#000','stroke-width':2.2},'panel-'+pre+'-zero-line');
  X.forEach((x,i)=>{
    mk(g,'circle',{cx:sx(x),cy:sy(Y[i]),r:11,fill:'#ff0000','fill-opacity':W[i]},'panel-'+pre+'-cohort-point');
    mk(g,'line',{x1:sx(Lo[i]),x2:sx(Hi[i]),y1:sy(Y[i]),y2:sy(Y[i]),stroke:'#ff0000','stroke-width':3},'panel-'+pre+'-error-bar');
  });
  band(g,bandX,bandUp,bandLow,sx,sy,.17,'panel-'+pre+'-smooth-band');
  mk(g,'line',{x1:f.l,x2:f.r,y1:sy(mean),y2:sy(mean),stroke:'#000','stroke-width':6},'panel-'+pre+'-mean-line');
  line(g,smX,sm,sx,sy,'#0000ff',6,'panel-'+pre+'-smooth-line');
  rug(g,'panel-'+pre,rugV,theta,sx,f,rugTop);
  axes(g,'panel-'+pre,f,sx,sy,xt,xt.map(String),yt,yl,opts);
}
function rr(pre,f,sx,sy,xt,yt,yl,bX_,up,low,blackX,black,brownX,brown,blueX,blue,o){
  const g=mk(root,'g',{},'panel-'+pre+'-marks');
  band(g,bX_,up,low,sx,sy,.09,'panel-'+pre+'-confidence-band');
  const xMax=bX_[bX_.length-1];
  mk(g,'line',{x1:sx(0),x2:sx(xMax),y1:sy(1),y2:sy(1),stroke:'#000','stroke-width':2.2},'panel-'+pre+'-baseline');
  line(g,blackX,black,sx,sy,'#000',5.5,'panel-'+pre+'-alpha-0-curve');
  line(g,brownX,brown,sx,sy,'#a52a2a',6,'panel-'+pre+'-alpha-1-curve');
  line(g,blueX,blue,sx,sy,'#0000ff',7,'panel-'+pre+'-fitted-curve');
  if(o.theta){
    mk(g,'line',{x1:sx(0),x2:sx(o.theta),y1:sy(o.at),y2:sy(o.at),stroke:'#000','stroke-width':6.5,'stroke-dasharray':'22 15'},'panel-'+pre+'-theta-horizontal-dash');
    mk(g,'line',{x1:sx(o.theta),x2:sx(o.theta),y1:sy(o.at),y2:f.b,stroke:'#000','stroke-width':5.5,'stroke-dasharray':'22 14'},'panel-'+pre+'-theta-vertical-dash');
    mk(g,'line',{x1:sx(o.theta),x2:sx(o.theta),y1:f.b-16,y2:f.b,stroke:'#000','stroke-width':10,'stroke-linecap':'round'},'panel-'+pre+'-theta-rug');
  }
  if(o.dotX){
    line(g,o.dotX,o.dot,sx,sy,'#000',6,'panel-'+pre+'-limit-dotted-line',{'stroke-dasharray':'6 16.6'});
  }
  axes(g,'panel-'+pre,f,sx,sy,xt,xt.map(String),yt,yl,{lw:4,bw:4});
}
function density(pre,f,sx,sy,X,D,xt,xl,yt,yl,fill,stroke,sw,bx0,bx1,dist,distW){
  const g=mk(root,'g',{},'panel-'+pre+'-marks');
  const top=pts(X,D,sx,sy);
  const d=curve(top);
  mk(g,'path',{d:d+'L'+sx(X[X.length-1]).toFixed(2)+' '+sy(0).toFixed(2)+'L'+sx(X[0]).toFixed(2)+' '+sy(0).toFixed(2)+'Z',fill:fill,stroke:'none'},'panel-'+pre+'-density-area');
  mk(g,'path',{d:d,fill:'none',stroke:stroke,'stroke-width':sw},'panel-'+pre+'-density-outline');
  mk(g,'line',{x1:sx(bx0),x2:sx(bx1),y1:sy(0),y2:sy(0),stroke:'#000','stroke-width':2.2},'panel-'+pre+'-baseline');
  if(dist){
    mk(g,'path',{d:'M'+pts(dist.x,dist.y,sx,sy).map(p=>p[0].toFixed(2)+' '+p[1].toFixed(2)).join('L'),fill:'none',stroke:'#ff0000','stroke-width':distW,'stroke-linejoin':'miter'},'panel-'+pre+'-distance-line');
  }
  axes(g,'panel-'+pre,f,sx,sy,xt,xl,yt,yl,{lw:5,bw:4});
}

/* ---------- Panel A ---------- */
(function(){
  const f={l:166,r:1190,t:161,b:911.5};
  scatter('a',f,scale(0,212.7,120,1137),scale(0,419,-.06,900.5),aX,aY,aLo,aHi,aWeight,aBandX,aBandUp,aBandLow,aSmoothX,aSmooth,aMean,aRug,aTheta,889.4,aYTicks,aYLabels,aXTicks,{lw:3.5,bw:4});
})();

/* ---------- Panel B ---------- */
(function(){
  const f={l:1375.5,r:1987,t:75,b:909};
  const sx=scale(0,1497,.075,1959.7),sy=scale(0,394.3,-.05,899);
  const g=mk(root,'g',{},'panel-b-marks');
  mk(g,'line',{x1:sx(bLineX[0]),x2:sx(bLineX[1]),y1:sy(bLineY[0]),y2:sy(bLineY[1]),stroke:'#000','stroke-width':2.4},'panel-b-identity-line');
  bX.forEach((x,i)=>{
    mk(g,'circle',{cx:sx(x),cy:sy(bY[i]),r:8,fill:'#ff0000'},'panel-b-cohort-point');
  });
  axes(g,'panel-b',f,sx,sy,bXTicks,bXLabels,bYTicks,bYLabels,{lw:3.5,bw:3.5,tsx:.93});
})();

/* ---------- Panel C ---------- */
(function(){
  const f={l:2170,r:3181,t:153.5,b:911.5};
  scatter('c',f,scale(0,2216,120,3128),scale(0,704,.075,187.4),cX,cY,cLo,cHi,cWeight,cBandX,cBandUp,cBandLow,cSmoothX,cSmooth,cMean,cRug,cTheta,889.4,cYTicks,cYLabels,cXTicks,{lw:2.6,bw:4});
})();

/* ---------- Panels D-G ---------- */
(function(){
  rr('d',{l:650,r:1588,t:1164,b:1676.7},scale(0,693,125,1582),scale(1,1654,2.5,1190),rrXTicks,dYTicks,dYLabels,dX,dBandUp,dBandLow,dBlackX,dBlack,dX,dBrown,dX,dBlue,{theta:dTheta,at:dAtTheta});
  rr('e',{l:1711.5,r:2650,t:1143,b:1676.7},scale(0,1755.7,125,2644.6),scale(1,1652,2.5,1169.8),rrXTicks,eYTicks,eYLabels,eX,eBandUp,eBandLow,eBlackX,eBlack,eX,eBrown,eX,eBlue,{theta:eTheta,at:eAtTheta});
  rr('f',{l:650,r:1588,t:1929,b:2442.7},scale(0,693,1000,1546),scale(1,2419.7,3,1990.9),extXTicks,fYTicks,fYLabels,fBandX,fBandUp,fBandLow,fBlackX,fBlack,fBrownX,fBrown,fBlueX,fBlue,{dotX:fDotX,dot:fDot});
  rr('g',{l:1711.5,r:2650,t:1909,b:2442.7},scale(0,1755,1000,2608),scale(1,2418,3,1973.7),extXTicks,gYTicks,gYLabels,gBandX,gBandUp,gBandLow,gBlackX,gBlack,gBrownX,gBrown,gBlueX,gBlue,{dotX:gDotX,dot:gDot});
})();

/* ---------- Density panels H-M ---------- */
(function(){
  const purple='rgba(160,32,240,.5)',indigo='rgb(128,128,255)',amber='rgb(253,209,128)';
  density('h',{l:126.4,r:527.5,t:1172,b:1448},scale(1,144,2,509),scale(0,1436.5,.8,1185),hX,hDensity,alphaTicks,alphaLabels,hYTicks,hYLabels,purple,'#a020f0',3,1,2,{x:hDistX,y:hDist},13);
  density('i',{l:127.5,r:527.5,t:1682,b:1944},scale(.008,264.6,.012,409),scale(0,1932.6,200,1761.6),iX,iDensity,iXTicks,iXLabels,iYTicks,iYLabels,indigo,'rgb(110,110,250)',1,.00472,.01478);
  density('j',{l:97,r:527.5,t:2193,b:2459},scale(0,117.5,1,507.9),scale(0,2447.3,3,2205.7),jX,jDensity,propTicks,propLabels,densityTicks3,densityLabels3,amber,'rgb(245,180,70)',1,0,1);
  density('k',{l:2780,r:3181,t:1165,b:1448},scale(1,2799,2,3163),scale(0,1436.5,.4,1242),kX,kDensity,alphaTicks,alphaLabels,kYTicks,kYLabels,purple,'#a020f0',3,1,2,{x:kDistX,y:kDist},14.5);
  density('l',{l:2781.6,r:3181,t:1669,b:1944},scale(.004,2798,.016,3102.7),scale(0,1932.6,150,1712.5),lX,lDensity,lXTicks,lXLabels,lYTicks,lYLabels,indigo,'rgb(110,110,250)',1,.00407,.01839);
  density('m',{l:2751.7,r:3181,t:2181,b:2459},scale(0,2771.7,1,3162),scale(0,2447.3,3,2201.7),mX,mDensity,propTicks,propLabels,densityTicks3,densityLabels3,amber,'rgb(245,180,70)',1,0,1);
})();
</script>
</body>
</html>
